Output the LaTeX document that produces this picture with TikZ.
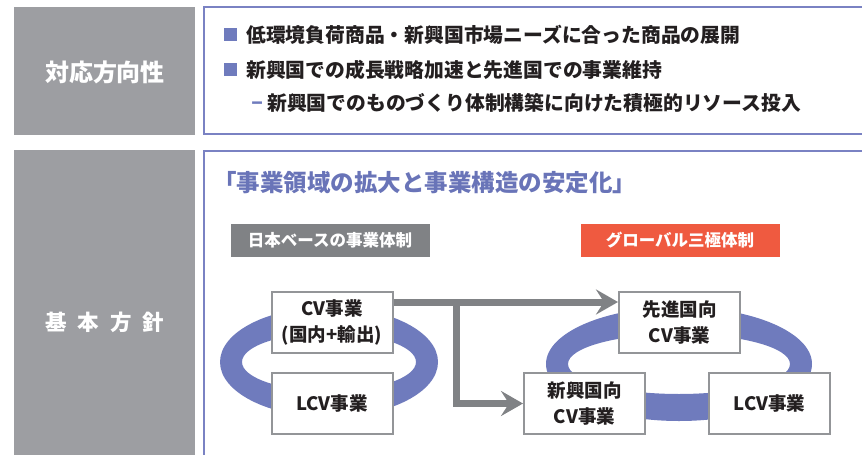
\documentclass[tikz,border=0pt]{standalone}
\usepackage{fontspec}
\newfontfamily\jp{Noto Sans CJK JP}
\usetikzlibrary{arrows.meta,calc}
\definecolor{leftgray}{RGB}{157,158,162}
\definecolor{labelgray}{RGB}{128,130,133}
\definecolor{orangered}{RGB}{239,90,64}
\definecolor{ringblue}{RGB}{111,123,189}
\definecolor{borderblue}{RGB}{122,130,195}
\definecolor{titleblue}{RGB}{105,116,184}
\definecolor{arrowgray}{RGB}{128,130,133}
\definecolor{boxgray}{RGB}{147,149,152}
\definecolor{textblack}{RGB}{35,31,32}
\tikzset{
  sidelabel/.style={text=white, font=\jp\bfseries\fontsize{24}{28}\selectfont, inner sep=0},
  bullettext/.style={anchor=west, text=textblack, font=\jp\bfseries\fontsize{19.8}{22}\selectfont, inner sep=0},
  bulletsq/.style={fill=ringblue, minimum width=13pt, minimum height=13pt, inner sep=0},
  tagbox/.style={text=white, font=\jp\bfseries\fontsize{16.5}{20}\selectfont, minimum width=199pt, minimum height=33pt, inner sep=0},
  bizbox/.style={draw=boxgray, line width=2pt, fill=white, text=textblack, align=center,
    font=\jp\bfseries\fontsize{18.5}{26}\selectfont, minimum width=121pt, minimum height=61pt, inner sep=0},
  flow/.style={draw=arrowgray, line width=7pt, -{Stealth[length=22pt,width=25pt,inset=8pt]}},
  frame/.style={draw=borderblue, line width=1.5pt},
}
\begin{document}
\begin{tikzpicture}[x=1pt,y=-1pt]
\useasboundingbox (0,0) rectangle (862,455);
% left gray panels
\fill[leftgray] (14,7) rectangle (195,135);
\fill[leftgray] (14,150) rectangle (195,455);
\node[sidelabel] (dir) at (105,72) {対応方向性};
\node[sidelabel, font=\jp\bfseries\fontsize{21.5}{24}\selectfont] (pol) at (105,322) {基\hspace{11pt}本\hspace{11pt}方\hspace{11pt}針};
% frames
\draw[frame] (862,7) -- (204,7) -- (204,134) -- (862,134);
\draw[frame] (862,151) -- (204,151) -- (204,455);
% top bullets
\node[bulletsq] (sq1) at (230,34) {};
\node[bullettext] (t1) at (246,35) {低環境負荷商品・新興国市場ニーズに合った商品の展開};
\node[bulletsq] (sq2) at (230,69) {};
\node[bullettext] (t2) at (246,70) {新興国での成長戦略加速と先進国での事業維持};
\node[bullettext, text=ringblue, font=\jp\bfseries\fontsize{22}{24}\selectfont] (dash) at (251,106) {–};
\node[bullettext] (t3) at (267,103) {新興国でのものづくり体制構築に向けた積極的リソース投入};
% title
\node[anchor=west, text=titleblue, font=\jp\bfseries\fontsize{23.5}{28}\selectfont, inner sep=0] (title) at (213,183) {「事業領域の拡大と事業構造の安定化」};
% tags
\node[tagbox, fill=labelgray] (tagjp) at (330,240) {日本ベースの事業体制};
\node[tagbox, fill=orangered] (tagglobal) at (680,240) {グローバル三極体制};
% rings
\fill[ringblue, even odd rule] (329,362) ellipse [x radius=109pt, y radius=55pt]
  (329,362) ellipse [x radius=87pt, y radius=29pt];
\fill[ringblue, even odd rule] (679,364) ellipse [x radius=133pt, y radius=57pt]
  (679,364) ellipse [x radius=111pt, y radius=30pt];
% boxes
\node[bizbox] (cv) at (332,322.5) {CV事業\\(国内+輸出)};
\node[bizbox] (lcvL) at (332,403.5) {LCV事業};
\node[bizbox] (adv) at (679.5,322.5) {先進国向\\CV事業};
\node[bizbox] (emg) at (584.5,403.5) {新興国向\\CV事業};
\node[bizbox] (lcvR) at (769.5,403.5) {LCV事業};
% arrows
\coordinate (br) at (456.5,303);
\draw[flow] ([yshift=-11pt]cv.north east) -- ([yshift=-11pt]adv.north west);
\draw[flow] (br) |- (emg.west);
\end{tikzpicture}
\end{document}
